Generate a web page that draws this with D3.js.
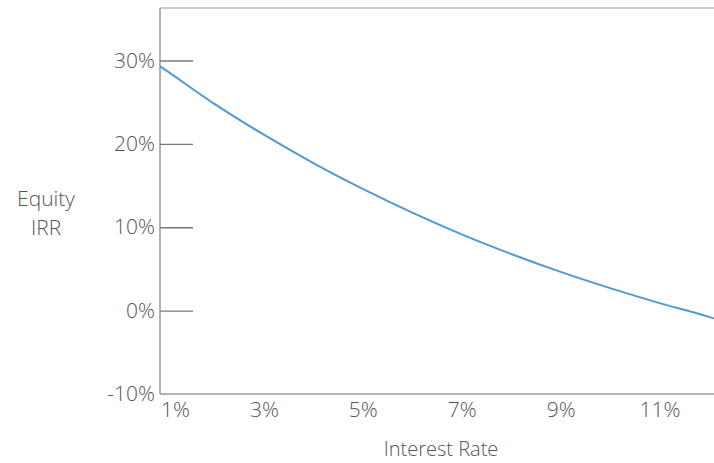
<!DOCTYPE html>
<html>
<head>
<meta charset="utf-8">
<script src="https://cdn.jsdelivr.net/npm/d3@7"></script>
<style>
  body { margin: 0; background: #fff; }
  text { font-family: "Open Sans", sans-serif; font-weight: 300; fill: #555; }
</style>
</head>
<body>
<script>
// data
var rates = [0.9, 1, 2, 3, 4, 5, 6, 7, 8, 9, 10, 11, 12, 12.1];
var irr   = [29.3, 28.9, 24.8, 21.1, 17.7, 14.6, 11.75, 9.15, 6.8, 4.65, 2.7, 0.9, -0.75, -0.95];
var xTicks = [1, 3, 5, 7, 9, 11];
var yTicks = [-10, 0, 10, 20, 30];

var width = 714, height = 463;
var plotLeft = 160, plotRight = 714, plotTop = 8, plotBottom = 394;

var svg = d3.select("body").append("svg")
    .attr("width", width)
    .attr("height", height);

var x = d3.scaleLinear().domain([0.9, 12.1]).range([plotLeft, plotRight]);
var y = d3.scaleLinear().domain([-10, 36.3]).range([plotBottom, plotTop]);

// frame: left, bottom and top
svg.append("line").attr("x1", plotLeft).attr("x2", plotLeft).attr("y1", plotTop).attr("y2", plotBottom)
    .attr("stroke", "#999").attr("stroke-width", 1.5);
svg.append("line").attr("x1", plotLeft).attr("x2", plotRight).attr("y1", plotBottom).attr("y2", plotBottom)
    .attr("stroke", "#999").attr("stroke-width", 1.5);
svg.append("line").attr("x1", plotLeft).attr("x2", plotRight).attr("y1", plotTop).attr("y2", plotTop)
    .attr("stroke", "#999").attr("stroke-width", 1.2);

// y axis
var yAxis = d3.axisRight(y)
    .tickValues(yTicks)
    .tickSize(33)
    .tickFormat(function (d) { return d + "%"; });

var yg = svg.append("g")
    .attr("transform", "translate(" + plotLeft + ",0)")
    .call(yAxis);
yg.select(".domain").remove();
yg.selectAll(".tick line")
    .attr("stroke", "#777")
    .attr("stroke-width", 1.3)
    .filter(function (d) { return d === -10; }).remove();
yg.selectAll(".tick text")
    .attr("x", -5)
    .attr("text-anchor", "end")
    .style("font-size", "21px");

// x axis
var xAxis = d3.axisBottom(x)
    .tickValues(xTicks)
    .tickSize(0)
    .tickFormat(function (d) { return d + "%"; });

var xg = svg.append("g")
    .attr("transform", "translate(0," + plotBottom + ")")
    .call(xAxis);
xg.select(".domain").remove();
xg.selectAll(".tick text")
    .attr("y", 8)
    .style("font-size", "21px")
    .attr("dx", function (d) { return d === 1 ? 10 : 0; });

// line
var line = d3.line()
    .x(function (d, i) { return x(rates[i]); })
    .y(function (d) { return y(d); })
    .curve(d3.curveMonotoneX);

svg.append("path")
    .datum(irr)
    .attr("fill", "none")
    .attr("stroke", "#5299d2")
    .attr("stroke-width", 2)
    .attr("d", line);

// axis titles
svg.append("text")
    .attr("x", 441).attr("y", 456)
    .attr("text-anchor", "middle")
    .style("font-size", "20px")
    .text("Interest Rate");

svg.append("text")
    .attr("x", 46).attr("y", 206)
    .attr("text-anchor", "middle")
    .style("font-size", "21px")
    .text("Equity");
svg.append("text")
    .attr("x", 46).attr("y", 235)
    .attr("text-anchor", "middle")
    .style("font-size", "21px")
    .text("IRR");
</script>
</body>
</html>
